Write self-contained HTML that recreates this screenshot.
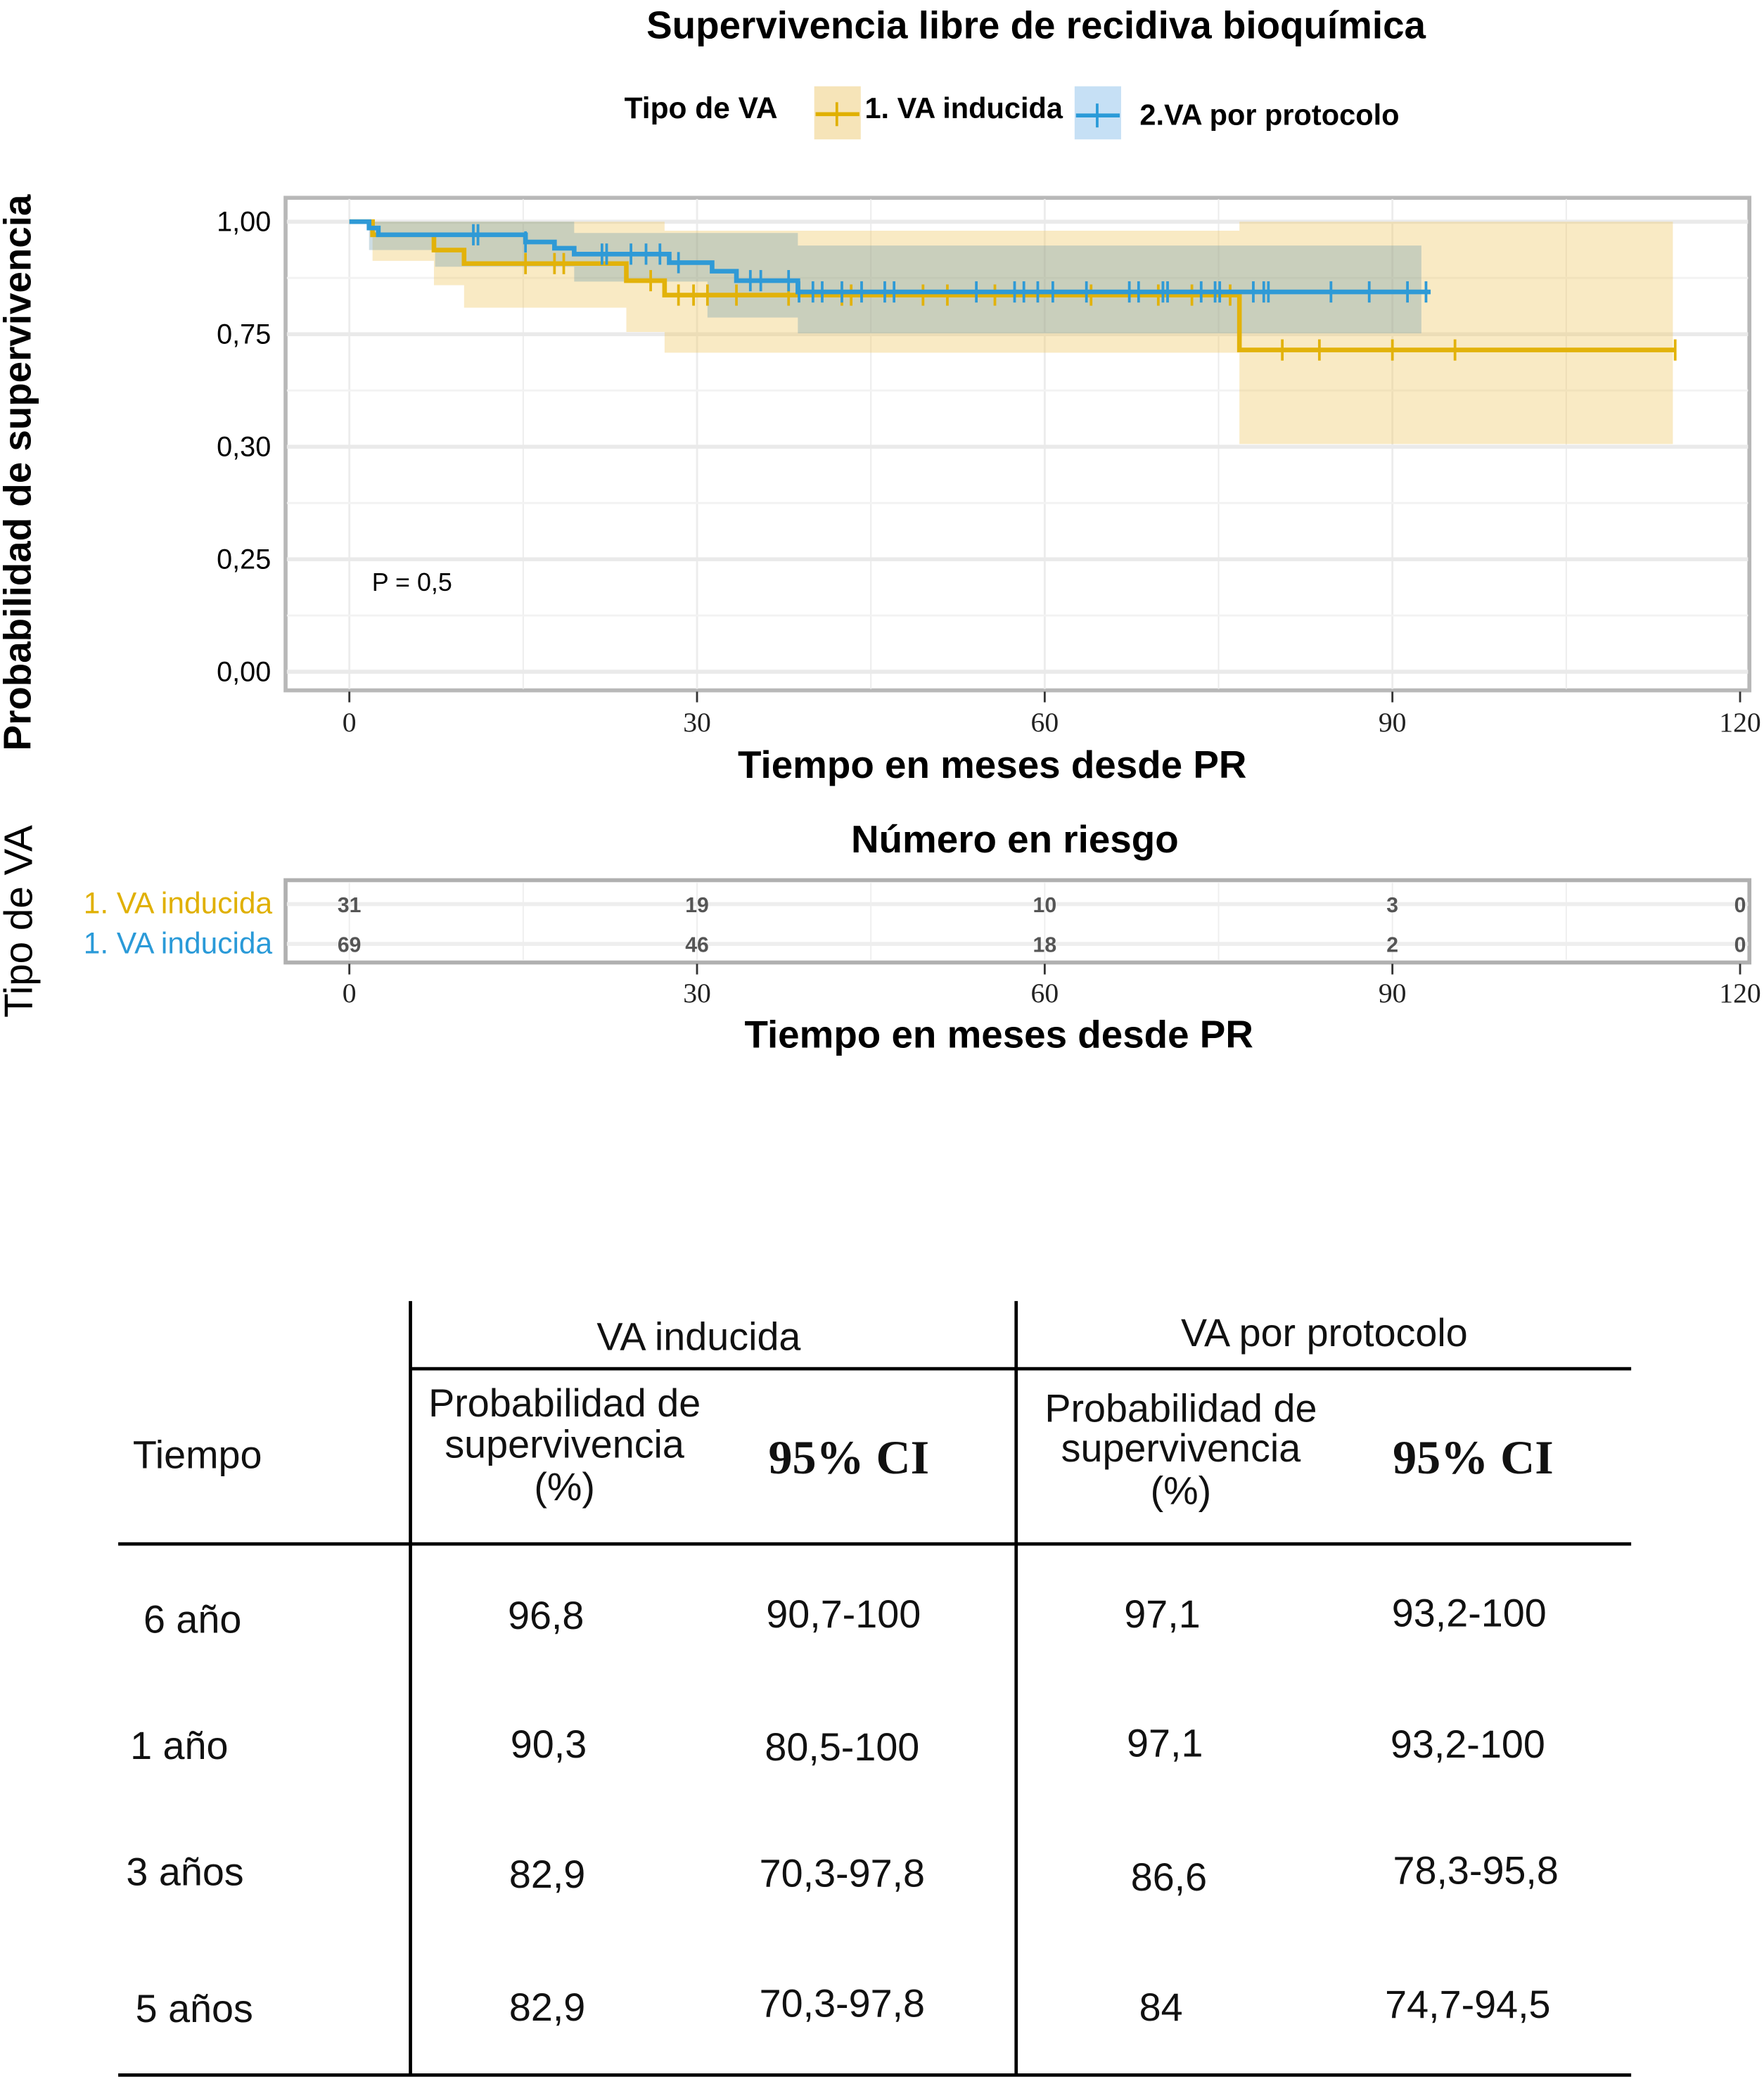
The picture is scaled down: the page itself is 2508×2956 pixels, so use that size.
<!DOCTYPE html>
<html><head><meta charset="utf-8">
<style>
html,body{margin:0;padding:0;background:#fff;}
svg{display:block;}
.sans{font-family:"Liberation Sans",sans-serif;}
.serif{font-family:"Liberation Serif",serif;}
</style></head>
<body>
<svg id="root" width="2508" height="2956" viewBox="0 0 1328 1566" preserveAspectRatio="none" xmlns="http://www.w3.org/2000/svg">
<text x="780" y="29" text-anchor="middle" class="sans" font-size="29" font-weight="bold">Supervivencia libre de recidiva bioquímica</text>
<g>
<text x="470" y="89" class="sans" font-size="22.5" font-weight="bold">Tipo de VA</text>
<rect x="613" y="65" width="35" height="40" fill="#f6e4b8"/>
<line x1="614" y1="86" x2="647" y2="86" stroke="#e0b000" stroke-width="3"/>
<line x1="630" y1="77" x2="630" y2="95" stroke="#e0b000" stroke-width="2"/>
<text x="651" y="89" class="sans" font-size="22" font-weight="bold">1. VA inducida</text>
<rect x="809" y="65" width="35" height="40" fill="#c6e0f5"/>
<line x1="810" y1="87" x2="843" y2="87" stroke="#2a9ad8" stroke-width="3"/>
<line x1="826" y1="78" x2="826" y2="96" stroke="#2a9ad8" stroke-width="2"/>
<text x="858" y="94" class="sans" font-size="22" font-weight="bold">2.VA por protocolo</text>
</g>
<text transform="translate(23,356) rotate(-90)" text-anchor="middle" class="sans" font-size="29" font-weight="bold">Probabilidad de supervivencia</text>
<g id="plot"></g>
<text x="747" y="586" text-anchor="middle" class="sans" font-size="29" font-weight="bold">Tiempo en meses desde PR</text>
<text x="280" y="445" class="sans" font-size="19">P = 0,5</text>

<text x="764" y="642" text-anchor="middle" class="sans" font-size="29" font-weight="bold">Número en riesgo</text>
<text transform="translate(24,694) rotate(-90)" text-anchor="middle" class="sans" font-size="30">Tipo de VA</text>
<text x="205" y="688" text-anchor="end" class="sans" font-size="22.5" fill="#e0b000">1. VA inducida</text>
<text x="205" y="718" text-anchor="end" class="sans" font-size="22.5" fill="#2a9ad8">1. VA inducida</text>
<g id="risk"></g>
<text x="752" y="789" text-anchor="middle" class="sans" font-size="29" font-weight="bold">Tiempo en meses desde PR</text>

<g class="sans" font-size="29.5" fill="#111">
<line x1="309" y1="980" x2="309" y2="1564" stroke="#000" stroke-width="2.5"/>
<line x1="765" y1="980" x2="765" y2="1564" stroke="#000" stroke-width="2.5"/>
<line x1="309" y1="1031" x2="1228" y2="1031" stroke="#000" stroke-width="2.5"/>
<line x1="89" y1="1163" x2="1228" y2="1163" stroke="#000" stroke-width="2.5"/>
<line x1="89" y1="1563" x2="1228" y2="1563" stroke="#000" stroke-width="2.5"/>
<text x="526" y="1017" text-anchor="middle">VA inducida</text>
<text x="997" y="1014" text-anchor="middle">VA por protocolo</text>
<text x="100" y="1106">Tiempo</text>
<text x="425" y="1067" text-anchor="middle">Probabilidad de</text>
<text x="425" y="1098" text-anchor="middle">supervivencia</text>
<text x="425" y="1130" text-anchor="middle">(%)</text>
<text x="889" y="1071" text-anchor="middle">Probabilidad de</text>
<text x="889" y="1101" text-anchor="middle">supervivencia</text>
<text x="889" y="1133" text-anchor="middle">(%)</text>
<text x="639" y="1110" text-anchor="middle" class="serif" font-size="36" font-weight="bold">95% CI</text>
<text x="1109" y="1110" text-anchor="middle" class="serif" font-size="36" font-weight="bold">95% CI</text>
<text x="108" y="1230">6 año</text><text x="411" y="1227" text-anchor="middle">96,8</text><text x="635" y="1226" text-anchor="middle">90,7-100</text><text x="875" y="1226" text-anchor="middle">97,1</text><text x="1106" y="1225" text-anchor="middle">93,2-100</text>
<text x="98" y="1325">1 año</text><text x="413" y="1324" text-anchor="middle">90,3</text><text x="634" y="1326" text-anchor="middle">80,5-100</text><text x="877" y="1323" text-anchor="middle">97,1</text><text x="1105" y="1324" text-anchor="middle">93,2-100</text>
<text x="95" y="1420">3 años</text><text x="412" y="1422" text-anchor="middle">82,9</text><text x="634" y="1421" text-anchor="middle">70,3-97,8</text><text x="880" y="1424" text-anchor="middle">86,6</text><text x="1111" y="1419" text-anchor="middle">78,3-95,8</text>
<text x="102" y="1523">5 años</text><text x="412" y="1522" text-anchor="middle">82,9</text><text x="634" y="1519" text-anchor="middle">70,3-97,8</text><text x="874" y="1522" text-anchor="middle">84</text><text x="1105" y="1520" text-anchor="middle">74,7-94,5</text>
</g>
</svg>
<script>
const xTicks=[0,30,60,90,120];
const yTickVals=[0,0.25,0.5,0.75,1];
const yTickLabels=["0,00","0,25","0,30","0,75","1,00"];
const indTimes=[0,2.0,7.3,9.9,23.9,27.2,76.8];
const indSurv=[1,0.971,0.937,0.907,0.869,0.837,0.715];
const indEnd=114.5;
const indCiTimes=[0,2.0,7.3,9.9,23.9,27.2,76.8];
const indUpper=[1,1,1,1,1,0.98,1];
const indLower=[1,0.913,0.859,0.809,0.755,0.709,0.506];
const indCiEnd=114.2;
const indCens=[15.2,17.7,18.5,26.0,28.4,29.7,30.9,33.4,37.9,42.5,43.3,49.5,51.6,55.7,64.0,69.8,72.7,76.0,80.5,83.7,90.0,95.4,114.4];
const proTimes=[0,1.7,2.5,15.2,17.7,19.4,27.6,31.3,33.4,38.7];
const proSurv=[1,0.986,0.971,0.955,0.941,0.928,0.909,0.89,0.869,0.844];
const proEnd=93.3;
const proCiTimes=[0,1.7,7.4,19.4,30.9,38.7];
const proUpper=[1,1,1,0.975,0.975,0.947];
const proLower=[1,0.937,0.90,0.867,0.787,0.752];
const proCiEnd=92.5;
const proCens=[10.7,11.1,15.2,21.8,22.2,24.3,25.6,26.8,28.4,34.6,35.5,37.9,38.8,40.0,40.8,42.5,44.2,46.2,47.0,54.1,57.4,58.2,59.4,60.7,63.6,67.3,68.1,70.2,70.6,73.5,74.7,75.1,78.0,78.9,79.3,84.7,88.0,91.3,92.9];
const riskInd=[31,19,10,3,0];
const riskPro=[69,46,18,2,0];

const NS="http://www.w3.org/2000/svg";
const X=t=>263+t*(1310-263)/120;
const Y=p=>506-p*(506-167);
function mk(tag,attrs,parent){const e=document.createElementNS(NS,tag);for(const k in attrs)e.setAttribute(k,attrs[k]);parent.appendChild(e);return e;}
const plot=document.getElementById('plot');
const bg=mk('rect',{x:215,y:149,width:1102,height:371,fill:'#fff',stroke:'#b8b8b8','stroke-width':3},plot);


for(let i=0;i<8;i++){const v=i*15;const gl=mk('line',{x1:X(v),y1:150,x2:X(v),y2:519,stroke:'#ececec','stroke-width':i%2?1:1.5},plot);

}
for(let i=0;i<9;i++){const v=i*0.125;const gl=mk('line',{x1:216,y1:Y(v),x2:1316,y2:Y(v),stroke:i%2?'#f2f2f2':'#eaeaea','stroke-width':i%2?1.5:3},plot);

}
function band(times,up,lo,end,fill,name){
 let d='';const n=times.length;
 for(let i=0;i<n;i++){const x0=X(times[i]),x1=X(i<n-1?times[i+1]:end);d+=(i?'L':'M')+x0+','+Y(up[i])+'L'+x1+','+Y(up[i]);}
 for(let i=n-1;i>=0;i--){const x0=X(times[i]),x1=X(i<n-1?times[i+1]:end);d+='L'+x1+','+Y(lo[i])+'L'+x0+','+Y(lo[i]);}
 const p=mk('path',{d:d+'Z',fill:fill},plot);
 
 
}
band(indCiTimes,indUpper,indLower,indCiEnd,'rgba(240,200,100,0.38)','ci-band-induced');
band(proCiTimes,proUpper,proLower,proCiEnd,'rgba(100,150,170,0.32)','ci-band-protocol');
function survAt(times,surv,t){let s=surv[0];for(let i=0;i<times.length;i++)if(times[i]<=t)s=surv[i];return s;}
function curve(times,surv,end,cens,color,name){
 let d='M'+X(times[0])+','+Y(surv[0]);
 for(let i=1;i<times.length;i++){d+='L'+X(times[i])+','+Y(surv[i-1])+'L'+X(times[i])+','+Y(surv[i]);}
 d+='L'+X(end)+','+Y(surv[surv.length-1]);
 const p=mk('path',{d:d,fill:'none',stroke:color,'stroke-width':3.5},plot);
 
 
 cens.forEach(t=>{const s=survAt(times,surv,t);const c=mk('line',{x1:X(t),y1:Y(s)-8,x2:X(t),y2:Y(s)+8,stroke:color,'stroke-width':2},plot);
 
 });
}
curve(indTimes,indSurv,indEnd,indCens,'#e2b20a','curve-induced');
curve(proTimes,proSurv,proEnd,proCens,'#2f9ad6','curve-protocol');
yTickVals.forEach((v,i)=>{const t=mk('text',{x:204,y:Y(v)+7,'text-anchor':'end','font-size':21,'font-family':'Liberation Sans, sans-serif'},plot);t.textContent=yTickLabels[i];

});
const risk=document.getElementById('risk');
function axisTicks(parent,y0,ty){xTicks.forEach(v=>{mk('line',{x1:X(v),y1:y0,x2:X(v),y2:y0+8,stroke:'#333','stroke-width':1.5},parent);
const t=mk('text',{x:X(v),y:ty,'text-anchor':'middle','font-size':21,'font-family':'Liberation Serif, serif',fill:'#222'},parent);t.textContent=v;

});}
axisTicks(plot,521,551);
const rp=mk('rect',{x:215,y:663,width:1102,height:62,fill:'#fff',stroke:'#b0b0b0','stroke-width':3},risk);


for(let i=0;i<8;i++){mk('line',{x1:X(i*15),y1:665,x2:X(i*15),y2:723,stroke:'#eee','stroke-width':1},risk);}
[681,711].forEach(y=>mk('line',{x1:216,y1:y,x2:1316,y2:y,stroke:'#eee','stroke-width':3},risk));
xTicks.forEach((v,i)=>{[[riskInd,687],[riskPro,717]].forEach(([arr,y])=>{const t=mk('text',{x:X(v),y:y,'text-anchor':'middle','font-size':16,'font-weight':'bold','font-family':'Liberation Sans, sans-serif',fill:'#555'},risk);t.textContent=arr[i];

});});
axisTicks(risk,726,755);
</script>
</body></html>
